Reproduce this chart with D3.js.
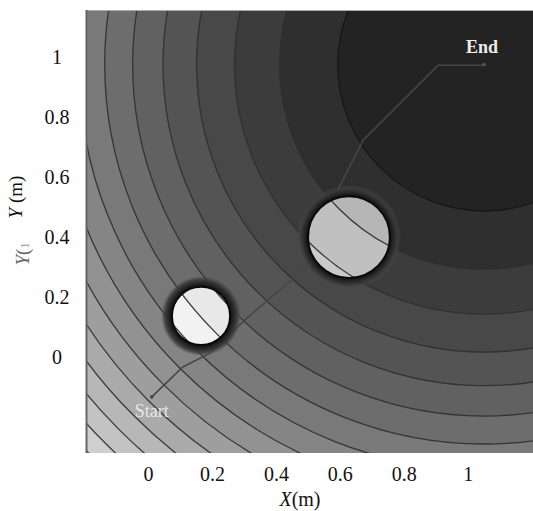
<!DOCTYPE html>
<html><head><meta charset="utf-8">
<script src="https://cdn.jsdelivr.net/npm/d3@7"></script>
<style>body{margin:0;background:#fff;} svg{display:block;}</style>
</head><body>
<svg id="chart" width="533" height="511"></svg>
<script>
// ---- data ----
const xTicks = [0, 0.2, 0.4, 0.6, 0.8, 1];
const yTicks = [0, 0.2, 0.4, 0.6, 0.8, 1];
const xTickLabels = ["0", "0.2", "0.4", "0.6", "0.8", "1"];
const yTickLabels = ["0", "0.2", "0.4", "0.6", "0.8", "1"];
const goal = [1.05, 0.975];
const start = [0.01, -0.133];
// attractive potential U = d^2 (m^2), contour levels
const potentialLevels = [0.21, 0.41, 0.61, 0.81, 1.01, 1.21, 1.41, 1.61, 1.81, 2.01, 2.21, 2.41, 2.61, 2.81, 3.01, 3.21];
const obstacleX = [0.627, 0.164];
const obstacleY = [0.400, 0.137];
const obstacleR = [0.128, 0.091];
const pathX = [0.010, 0.107, 0.192, 0.311, 0.483, 0.530, 0.584, 0.671, 0.906, 1.047];
const pathY = [-0.133, -0.033, 0.013, 0.133, 0.290, 0.340, 0.540, 0.723, 0.973, 0.973];

// ---- layout ----
const L = 86, R = 533, T = 10, B = 453;
const x = d3.scaleLinear().domain([-0.196, 1.203]).range([L, R]);
const y = d3.scaleLinear().domain([-0.32, 1.157]).range([B, T]);
const pr = r => x(r) - x(0);
const bandGray = i => { const g = Math.round(35 + 12.3 * i); return `rgb(${g},${g},${g})`; };
const innerGray = i => { const g = Math.min(250, Math.round(172 + 10 * i)); return `rgb(${g},${g},${g})`; };
const serif = "'Liberation Serif','Times New Roman',serif";

const svg = d3.select("#chart");
const defs = svg.append("defs");
defs.append("clipPath").attr("id", "plotClip").append("rect")
  .attr("x", L).attr("y", T).attr("width", R - L).attr("height", B - T);

const plot = svg.append("g").attr("clip-path", "url(#plotClip)");
const gx = x(goal[0]), gy = y(goal[1]);
const n = potentialLevels.length;
const radii = potentialLevels.map(v => pr(Math.sqrt(v)));

// background bands
plot.append("rect").attr("x", L).attr("y", T).attr("width", R - L).attr("height", B - T)
  .attr("fill", bandGray(n));
plot.selectAll("circle.band").data(d3.range(n).reverse()).join("circle")
  .attr("class", "band").attr("cx", gx).attr("cy", gy).attr("r", i => radii[i])
  .attr("fill", i => bandGray(i));
// contour lines
plot.selectAll("circle.line").data(d3.range(n)).join("circle")
  .attr("class", "line").attr("cx", gx).attr("cy", gy).attr("r", i => radii[i])
  .attr("fill", "none").attr("stroke", i => i === 0 ? "#151515" : "#2f2f2f")
  .attr("stroke-width", 1.3).attr("stroke-opacity", 0.9);

// path
const line = d3.line().x(d => x(d[0])).y(d => y(d[1]));
const pathPts = pathX.map((v, i) => [v, pathY[i]]);
plot.append("path").attr("d", line(pathPts)).attr("fill", "none")
  .attr("stroke", "#474747").attr("stroke-width", 1.6);

// obstacles
obstacleX.forEach((ox, k) => {
  const cx = x(ox), cy = y(obstacleY[k]), r = pr(obstacleR[k]);
  const rOut = r + 11;
  const gid = "ring" + k;
  const grad = defs.append("radialGradient").attr("id", gid)
    .attr("gradientUnits", "userSpaceOnUse").attr("cx", cx).attr("cy", cy).attr("r", rOut);
  const f = v => (v / rOut).toFixed(3);
  grad.append("stop").attr("offset", f(r - 1)).attr("stop-color", "#0c0c0c").attr("stop-opacity", 1);
  grad.append("stop").attr("offset", f(r + 1.5)).attr("stop-color", "#1a1a1a").attr("stop-opacity", 1);
  grad.append("stop").attr("offset", f(r + 4.5)).attr("stop-color", "#2c2c2c").attr("stop-opacity", 1);
  grad.append("stop").attr("offset", f(r + 7.5)).attr("stop-color", "#3c3c3c").attr("stop-opacity", 0.85);
  grad.append("stop").attr("offset", "1").attr("stop-color", "#505050").attr("stop-opacity", 0);
  plot.append("circle").attr("cx", cx).attr("cy", cy).attr("r", rOut).attr("fill", `url(#${gid})`);

  const cid = "obs" + k;
  defs.append("clipPath").attr("id", cid).append("circle").attr("cx", cx).attr("cy", cy).attr("r", r);
  const g = plot.append("g").attr("clip-path", `url(#${cid})`);
  g.append("rect").attr("x", cx - r).attr("y", cy - r).attr("width", 2 * r).attr("height", 2 * r)
    .attr("fill", innerGray(n));
  g.selectAll("circle.ib").data(d3.range(n).reverse()).join("circle")
    .attr("class", "ib").attr("cx", gx).attr("cy", gy).attr("r", i => radii[i])
    .attr("fill", i => innerGray(i));
  g.selectAll("circle.il").data(d3.range(n)).join("circle")
    .attr("class", "il").attr("cx", gx).attr("cy", gy).attr("r", i => radii[i])
    .attr("fill", "none").attr("stroke", "#3a3a3a").attr("stroke-width", 1.3);
  plot.append("circle").attr("cx", cx).attr("cy", cy).attr("r", r)
    .attr("fill", "none").attr("stroke", "#0a0a0a").attr("stroke-width", 2);
});

// start / end markers & labels
plot.append("circle").attr("cx", x(start[0])).attr("cy", y(start[1])).attr("r", 1.8).attr("fill", "#444");
plot.append("circle").attr("cx", x(goal[0])).attr("cy", y(goal[1])).attr("r", 1.8).attr("fill", "#555");
svg.append("text").attr("x", x(start[0])).attr("y", y(start[1]) + 20)
  .attr("text-anchor", "middle").attr("font-family", serif).attr("font-size", 18)
  .attr("fill", "#e6e6e6").text("Start");
svg.append("text").attr("x", x(goal[0]) - 2).attr("y", y(goal[1]) - 12)
  .attr("text-anchor", "middle").attr("font-family", serif).attr("font-size", 18).attr("font-weight", "bold")
  .attr("fill", "#ececec").text("End");

// frame
svg.append("line").attr("x1", L).attr("x2", R).attr("y1", T + 0.5).attr("y2", T + 0.5)
  .attr("stroke", "#aaa").attr("stroke-width", 1);
svg.append("line").attr("x1", L + 0.5).attr("x2", L + 0.5).attr("y1", T).attr("y2", B)
  .attr("stroke", "#666").attr("stroke-width", 2);

// tick labels
svg.selectAll("text.xt").data(xTicks).join("text").attr("class", "xt")
  .attr("x", d => x(d)).attr("y", 481).attr("text-anchor", "middle")
  .attr("font-family", serif).attr("font-size", 20).attr("fill", "#111")
  .text((d, i) => xTickLabels[i]);
svg.selectAll("text.yt").data(yTicks).join("text").attr("class", "yt")
  .attr("x", 57).attr("y", d => y(d) + 7).attr("text-anchor", "middle")
  .attr("font-family", serif).attr("font-size", 20).attr("fill", "#111")
  .text((d, i) => yTickLabels[i]);

// axis titles
const xt = svg.append("text").attr("x", 300).attr("y", 506).attr("text-anchor", "middle")
  .attr("font-family", serif).attr("font-size", 20).attr("fill", "#111");
xt.append("tspan").attr("font-style", "italic").text("X");
xt.append("tspan").text("(m)");
const yt = svg.append("text").attr("transform", "translate(22,197) rotate(-90)").attr("text-anchor", "middle")
  .attr("font-family", serif).attr("font-size", 19).attr("fill", "#111");
yt.append("tspan").attr("font-style", "italic").text("Y");
yt.append("tspan").text(" (m)");
const yg = svg.append("text").attr("transform", "translate(29,254) rotate(-90)").attr("text-anchor", "middle")
  .attr("font-family", serif).attr("font-size", 19).attr("fill", "#666");
yg.append("tspan").attr("font-style", "italic").text("Y");
yg.append("tspan").text("(");
yg.append("tspan").attr("font-size", 12).attr("fill", "#999").text("1");
</script>
</body></html>
